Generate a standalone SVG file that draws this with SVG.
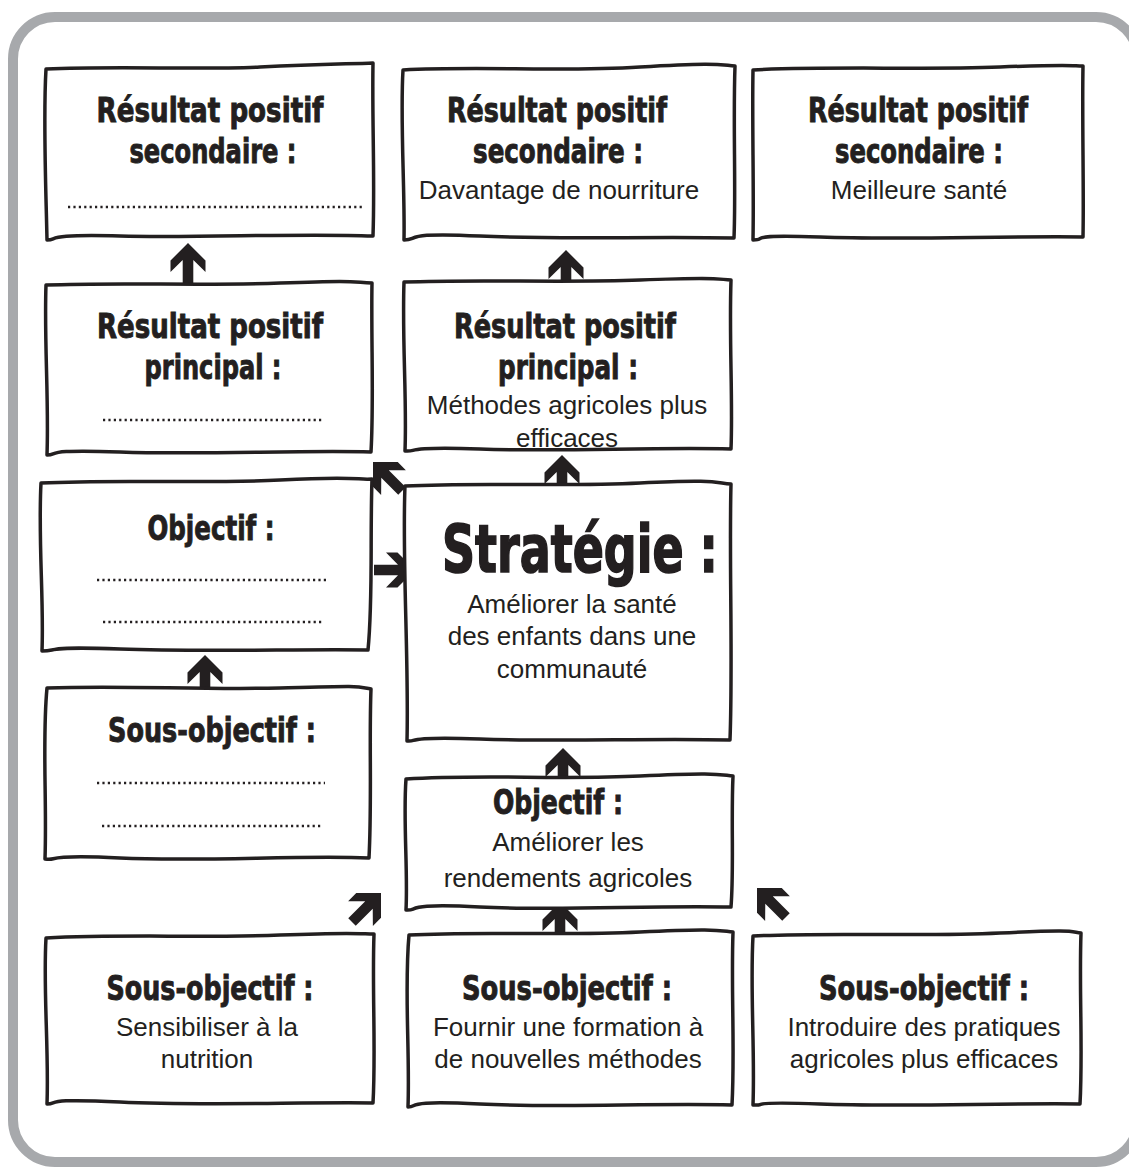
<svg xmlns="http://www.w3.org/2000/svg" xmlns:xlink="http://www.w3.org/1999/xlink" width="1129" height="1167" viewBox="0 0 1129 1167">
<style>
.frame{fill:#fff;stroke:#a7a9ac;stroke-width:10}
.box{fill:#fff;stroke:#231f20;stroke-width:3.5;stroke-linejoin:round}
.h{font-family:"DejaVu Sans Condensed","DejaVu Sans",sans-serif;font-stretch:condensed;font-weight:bold;font-size:34px;fill:#231f20;stroke:#231f20;stroke-width:0.9;text-anchor:middle}
.big{font-size:66px;stroke-width:1.6}
.b{font-family:"Liberation Sans",Arial,sans-serif;font-size:26px;fill:#231f20;text-anchor:middle}
.dots{stroke:#231f20;stroke-width:2.5;stroke-dasharray:2.2 3.2}
.arr{fill:#231f20}
</style>
<defs>
<path id="arrow" d="M0 0 L17.5 17.5 L17.5 29 L5.3 17 L5.3 41 L-5.3 41 L-5.3 17 L-17.5 29 L-17.5 17.5 Z"/>
</defs>
<rect class="frame" x="13" y="17" width="1125" height="1145" rx="42"/>
<g id="connectors" class="arr">
<use xlink:href="#arrow" transform="translate(188,243)"/>
<use xlink:href="#arrow" transform="translate(566,250)"/>
<use xlink:href="#arrow" transform="translate(562,455)"/>
<use xlink:href="#arrow" transform="translate(373,462) rotate(-45)"/>
<use xlink:href="#arrow" transform="translate(415,570) rotate(90)"/>
<use xlink:href="#arrow" transform="translate(205,655)"/>
<use xlink:href="#arrow" transform="translate(563,748)"/>
<use xlink:href="#arrow" transform="translate(381,893) rotate(45)"/>
<use xlink:href="#arrow" transform="translate(560,902)"/>
<use xlink:href="#arrow" transform="translate(757,888) rotate(-45)"/>
</g>
<g id="n1">
<path class="box" d="M46 69 C120 66 200 70 260 67 S350 64 373 63 C372 120 375 180 373 236 C300 233 200 238 120 236 S60 240 47 240 C46 190 43 120 46 69 Z"/>
<text class="h" x="210" y="122" textLength="227" lengthAdjust="spacingAndGlyphs">Résultat positif</text>
<text class="h" x="213" y="163" textLength="167" lengthAdjust="spacingAndGlyphs">secondaire :</text>
<line class="dots" x1="68" y1="207" x2="362" y2="207"/>
</g>
<g id="n2">
<path class="box" d="M403 70 C480 66 560 72 640 67 S720 65 735 66 C733 120 736 190 734 238 C650 236 560 240 480 236 S420 240 404 240 C405 190 400 120 403 70 Z"/>
<text class="h" x="557" y="122" textLength="220" lengthAdjust="spacingAndGlyphs">Résultat positif</text>
<text class="h" x="558" y="163" textLength="170" lengthAdjust="spacingAndGlyphs">secondaire :</text>
<text class="b" x="559" y="199">Davantage de nourriture</text>
</g>
<g id="n3">
<path class="box" d="M753 70 C830 66 920 70 1000 67 S1070 66 1083 66 C1082 120 1084 190 1083 237 C1000 236 900 240 820 237 S770 240 753 240 C754 190 752 120 753 70 Z"/>
<text class="h" x="918" y="122" textLength="220" lengthAdjust="spacingAndGlyphs">Résultat positif</text>
<text class="h" x="919" y="163" textLength="168" lengthAdjust="spacingAndGlyphs">secondaire :</text>
<text class="b" x="919" y="199">Meilleure santé</text>
</g>
<g id="n4">
<path class="box" d="M46 285 C120 282 200 286 280 283 S350 282 372 283 C371 340 374 400 371 452 C300 450 200 455 120 452 S60 455 47 455 C49 400 44 340 46 285 Z"/>
<text class="h" x="210" y="338" textLength="226" lengthAdjust="spacingAndGlyphs">Résultat positif</text>
<text class="h" x="213" y="379" textLength="137" lengthAdjust="spacingAndGlyphs">principal :</text>
<line class="dots" x1="103" y1="420" x2="322" y2="420"/>
</g>
<g id="n5">
<path class="box" d="M404 282 C480 279 560 283 640 280 S715 279 731 280 C729 340 733 400 731 449 C650 447 560 452 480 449 S420 452 405 451 C407 400 402 340 404 282 Z"/>
<text class="h" x="565" y="338" textLength="222" lengthAdjust="spacingAndGlyphs">Résultat positif</text>
<text class="h" x="568" y="379" textLength="140" lengthAdjust="spacingAndGlyphs">principal :</text>
<text class="b" x="567" y="414">Méthodes agricoles plus</text>
<text class="b" x="567" y="447">efficaces</text>
</g>
<g id="n6">
<path class="box" d="M41 483 C120 479 200 484 280 480 S355 480 372 479 C370 540 373 600 368 650 C300 649 200 652 120 649 S60 651 42 651 C44 600 38 540 41 483 Z"/>
<text class="h" x="211" y="540" textLength="127" lengthAdjust="spacingAndGlyphs">Objectif :</text>
<line class="dots" x1="97" y1="580" x2="326" y2="580"/>
<line class="dots" x1="103" y1="622" x2="322" y2="622"/>
</g>
<g id="n7">
<path class="box" d="M405 486 C480 482 560 487 640 483 S715 483 731 484 C729 560 733 660 730 740 C650 738 560 742 480 739 S420 742 407 741 C409 660 402 560 405 486 Z"/>
<text class="h big" x="580" y="572" textLength="276" lengthAdjust="spacingAndGlyphs">Stratégie :</text>
<text class="b" x="572" y="613">Améliorer la santé</text>
<text class="b" x="572" y="645">des enfants dans une</text>
<text class="b" x="572" y="678">communauté</text>
</g>
<g id="n8">
<path class="box" d="M47 688 C120 685 200 690 280 688 S355 686 371 689 C369 740 372 800 369 858 C300 855 200 862 120 858 S60 861 45 859 C47 800 42 740 47 688 Z"/>
<text class="h" x="212" y="742" textLength="208" lengthAdjust="spacingAndGlyphs">Sous-objectif :</text>
<line class="dots" x1="97" y1="783" x2="325" y2="783"/>
<line class="dots" x1="102" y1="826" x2="322" y2="826"/>
</g>
<g id="n9">
<path class="box" d="M406 779 C480 774 560 780 640 776 S720 775 733 776 C731 820 734 870 731 907 C650 905 560 911 480 907 S420 911 406 910 C408 870 403 820 406 779 Z"/>
<text class="h" x="558" y="814" textLength="130" lengthAdjust="spacingAndGlyphs">Objectif :</text>
<text class="b" x="568" y="851">Améliorer les</text>
<text class="b" x="568" y="887">rendements agricoles</text>
</g>
<g id="n10">
<path class="box" d="M46 938 C120 934 200 938 280 935 S360 934 374 934 C372 990 376 1050 373 1103 C300 1102 200 1106 120 1102 S60 1104 47 1104 C49 1050 43 990 46 938 Z"/>
<text class="h" x="210" y="1000" textLength="207" lengthAdjust="spacingAndGlyphs">Sous-objectif :</text>
<text class="b" x="207" y="1036">Sensibiliser à la</text>
<text class="b" x="207" y="1068">nutrition</text>
</g>
<g id="n11">
<path class="box" d="M409 935 C480 931 560 936 640 932 S720 931 733 932 C731 990 735 1050 732 1105 C650 1103 560 1108 480 1104 S420 1107 408 1107 C410 1050 404 990 409 935 Z"/>
<text class="h" x="567" y="1000" textLength="210" lengthAdjust="spacingAndGlyphs">Sous-objectif :</text>
<text class="b" x="568" y="1036">Fournir une formation à</text>
<text class="b" x="568" y="1068">de nouvelles méthodes</text>
</g>
<g id="n12">
<path class="box" d="M753 936 C830 932 920 937 1000 933 S1070 932 1081 933 C1079 990 1083 1050 1080 1104 C1000 1103 900 1107 820 1104 S770 1106 753 1105 C755 1050 750 990 753 936 Z"/>
<text class="h" x="924" y="1000" textLength="210" lengthAdjust="spacingAndGlyphs">Sous-objectif :</text>
<text class="b" x="924" y="1036">Introduire des pratiques</text>
<text class="b" x="924" y="1068">agricoles plus efficaces</text>
</g>
</svg>
